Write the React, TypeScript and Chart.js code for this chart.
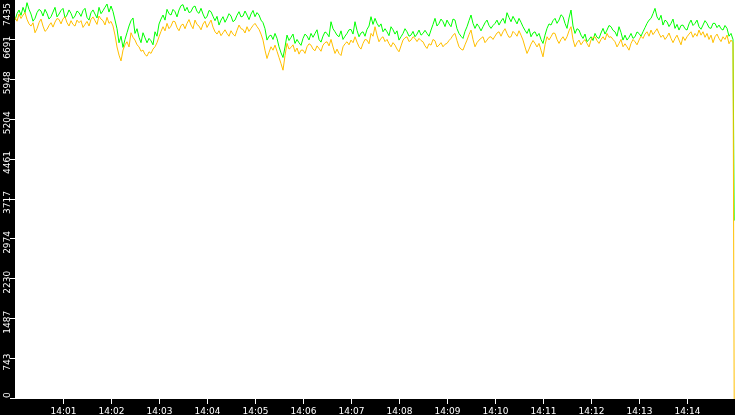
import React, { useEffect, useRef } from "react";
import { Chart, registerables } from "chart.js";

Chart.register(...registerables);

// Sampling interval of the series (seconds, starting at 14:00:00)
const SAMPLE_SECONDS = 2.5;
const X_MAX_SECONDS = 900;

const xTickSeconds = [60, 120, 180, 240, 300, 360, 420, 480, 540, 600, 660, 720, 780, 840];
const xTickLabels = ["14:01", "14:02", "14:03", "14:04", "14:05", "14:06", "14:07", "14:08", "14:09", "14:10", "14:11", "14:12", "14:13", "14:14"];

const yMax = 7435;
const yTickLabels = ["0", "743", "1487", "2230", "2974", "3717", "4461", "5204", "5948", "6691", "7435"];

const greenValues = [
  7061, 7180, 7248, 7150, 7298, 7200, 7385, 7260, 7173, 7040, 7093, 7200, 7261, 7230, 7136, 7260, 7186, 7080, 7124, 7210,
  7298, 7120, 7173, 7240, 7279, 7100, 7155, 7250, 7186, 7090, 7136, 7230, 7198, 7130, 7236, 7280, 7111, 7060, 7198, 7250,
  7173, 7100, 7298, 7180, 7236, 7300, 7360, 7210, 7323, 7220, 7061, 6900, 6638, 6760, 6551, 6700, 6825, 6950, 7049, 7100,
  6812, 6900, 6738, 6640, 6825, 6730, 6638, 6720, 6675, 6600, 6843, 6760, 6987, 7080, 7155, 7060, 7261, 7180, 7155, 7260,
  7217, 7120, 7248, 7330, 7348, 7230, 7298, 7200, 7217, 7300, 7323, 7220, 7186, 7280, 7173, 7090, 7124, 7240, 7217, 7130,
  7049, 7130, 6968, 7060, 7124, 7020, 7093, 7180, 7136, 7030, 7061, 7150, 7217, 7120, 7136, 7230, 7155, 7070, 7173, 7240,
  7124, 7200, 7155, 7060, 7012, 6900, 6688, 6760, 6781, 6700, 6812, 6720, 6563, 6450, 6364, 6560, 6781, 6680, 6738, 6800,
  6626, 6700, 6638, 6590, 6719, 6800, 6762, 6690, 6812, 6740, 6812, 6880, 6700, 6650, 6762, 6840, 6812, 6750, 7030, 6900,
  6843, 6780, 6750, 6860, 6700, 6760, 6812, 6880, 6887, 6800, 7030, 6870, 6750, 6820, 6843, 6760, 6887, 6950, 7124, 6980,
  7093, 7000, 6937, 6990, 6843, 6900, 6843, 6770, 6937, 6880, 6800, 6860, 6688, 6750, 6812, 6900, 6843, 6760, 6781, 6850,
  6750, 6800, 6875, 6780, 6812, 6870, 6812, 6760, 6875, 6980, 7093, 6950, 6999, 7080, 7030, 6940, 7061, 6990, 6937, 7080,
  7061, 6900, 6812, 6760, 6719, 6850, 6937, 7050, 7155, 7000, 6906, 6990, 6937, 6860, 6937, 7010, 7061, 6960, 6906, 6960,
  6999, 7060, 6968, 7040, 7093, 7000, 7198, 7110, 7030, 7130, 7061, 6990, 7093, 7020, 6937, 6870, 6812, 6900, 6750, 6820,
  6843, 6760, 6812, 6700, 6626, 6780, 6906, 6990, 6968, 7050, 7093, 7000, 7061, 7160, 7124, 7000, 6906, 7100, 7248, 6950,
  6812, 6900, 6875, 6780, 6719, 6800, 6657, 6700, 6750, 6680, 6812, 6740, 6719, 6820, 6906, 6800, 6875, 6960, 6937, 6870,
  6843, 6760, 6937, 6830, 6688, 6780, 6688, 6740, 6812, 6720, 6750, 6840, 6812, 6760, 6843, 6920, 6999, 7060, 7093, 7180,
  7279, 7120, 7061, 7150, 6968, 7060, 7030, 6940, 6999, 7080, 6906, 6980, 6875, 6960, 6968, 6900, 6875, 6990, 7061, 6960,
  6999, 7060, 6937, 6890, 6968, 7050, 6999, 6920, 6906, 7000, 6999, 6920, 6968, 6900, 6875, 6960, 6906, 6760, 6812, 6700,
];

const orangeValues = [
  7111, 7040, 7173, 7090, 7155, 7200, 7074, 6990, 6949, 7010, 6825, 6900, 7012, 7080, 6949, 6850, 6887, 6960, 7012, 6930,
  7024, 7090, 7074, 6990, 7086, 7120, 7012, 6950, 7049, 6980, 6949, 7060, 7012, 7050, 6924, 6980, 7036, 6950, 7074, 7120,
  7049, 6980, 7136, 7080, 7049, 6970, 7111, 7000, 7036, 6950, 6781, 6560, 6408, 6300, 6501, 6600, 6657, 6560, 6825, 6740,
  6688, 6600, 6563, 6480, 6501, 6420, 6389, 6470, 6439, 6520, 6563, 6640, 6750, 6850, 6937, 6860, 6999, 6900, 6949, 7040,
  7030, 6920, 6862, 6960, 6987, 6900, 6999, 7070, 6968, 6900, 7061, 6980, 6949, 6880, 6987, 7040, 6924, 6990, 7061, 6930,
  6843, 6800, 6862, 6770, 6825, 6880, 6812, 6760, 6862, 6800, 6762, 6870, 6968, 6900, 6887, 6820, 6937, 6850, 6906, 6960,
  6999, 6940, 6887, 6800, 6688, 6500, 6345, 6460, 6563, 6500, 6594, 6480, 6364, 6250, 6127, 6400, 6626, 6520, 6551, 6600,
  6470, 6540, 6426, 6500, 6501, 6440, 6563, 6620, 6594, 6520, 6489, 6580, 6532, 6480, 6594, 6640, 6657, 6580, 6700, 6560,
  6439, 6520, 6439, 6400, 6563, 6620, 6657, 6600, 6688, 6640, 6750, 6650, 6563, 6520, 6626, 6700, 6688, 6620, 6812, 6760,
  6937, 6780, 6657, 6720, 6750, 6660, 6700, 6620, 6563, 6640, 6594, 6520, 6470, 6580, 6688, 6730, 6750, 6660, 6688, 6750,
  6719, 6660, 6719, 6680, 6657, 6580, 6532, 6620, 6594, 6700, 6675, 6560, 6594, 6640, 6563, 6610, 6626, 6680, 6719, 6780,
  6812, 6680, 6563, 6520, 6501, 6600, 6688, 6790, 6875, 6700, 6563, 6640, 6688, 6720, 6750, 6640, 6688, 6740, 6750, 6700,
  6762, 6820, 6843, 6760, 6843, 6900, 6812, 6740, 6750, 6850, 6812, 6760, 6862, 6780, 6688, 6560, 6439, 6520, 6613, 6680,
  6626, 6560, 6626, 6500, 6376, 6600, 6750, 6690, 6750, 6820, 6812, 6700, 6626, 6700, 6750, 6680, 6750, 6860, 6937, 6700,
  6563, 6640, 6688, 6600, 6657, 6700, 6626, 6560, 6688, 6740, 6750, 6680, 6626, 6700, 6750, 6690, 6812, 6740, 6750, 6700,
  6657, 6560, 6626, 6700, 6563, 6620, 6563, 6500, 6626, 6700, 6657, 6600, 6688, 6760, 6719, 6800, 6843, 6760, 6875, 6790,
  6843, 6900, 6812, 6740, 6781, 6700, 6750, 6820, 6719, 6640, 6719, 6780, 6688, 6600, 6750, 6680, 6750, 6800, 6843, 6740,
  6812, 6760, 6875, 6780, 6843, 6740, 6812, 6700, 6781, 6640, 6750, 6800, 6719, 6660, 6750, 6700, 6781, 6620, 6688, 6640,
];

// Final sample where both series drop
const dropSecond = 899;
const greenDrop = 3325;
const orangeDrop = 0;

const GREEN = "#00ff00";
const ORANGE = "#ffbf00";
const FONT = '9px "DejaVu Sans"';

function toPoints(values: number[], last: number) {
  const pts = values.map((v, i) => ({ x: i * SAMPLE_SECONDS, y: v }));
  pts.push({ x: dropSecond, y: last });
  return pts;
}

const framePlugin = {
  id: "frame",
  beforeDraw(chart: any) {
    const { ctx, chartArea: a, width, height } = chart;
    ctx.save();
    ctx.fillStyle = "#000";
    ctx.fillRect(0, 0, width, height);
    ctx.fillStyle = "#fff";
    ctx.fillRect(a.left, a.top, a.right - a.left, a.bottom - a.top);
    ctx.restore();
  },
  afterDraw(chart: any) {
    const { ctx, chartArea: a } = chart;
    const xs = chart.scales.x;
    const ys = chart.scales.y;
    ctx.save();
    ctx.strokeStyle = "#fff";
    ctx.fillStyle = "#fff";
    ctx.lineWidth = 1;
    ctx.font = FONT;
    // x axis ticks + labels
    xTickSeconds.forEach((s, i) => {
      const x = Math.round(xs.getPixelForValue(s)) + 0.5;
      ctx.beginPath();
      ctx.moveTo(x, a.bottom);
      ctx.lineTo(x, a.bottom + 5);
      ctx.stroke();
      ctx.textAlign = "center";
      ctx.textBaseline = "alphabetic";
      ctx.fillText(xTickLabels[i], x, a.bottom + 15);
    });
    // y axis ticks + rotated labels (laid out from the top so they never overlap)
    const n = yTickLabels.length - 1;
    let prevEnd = -Infinity;
    for (let i = n; i >= 0; i--) {
      const lab = yTickLabels[i];
      const v = (yMax * i) / n;
      const py = ys.getPixelForValue(v);
      const y = Math.round(py) - 0.5;
      ctx.beginPath();
      ctx.moveTo(a.left - 5, y);
      ctx.lineTo(a.left, y);
      ctx.stroke();
      const w = ctx.measureText(lab).width;
      let cy = py + 3;
      cy = Math.max(cy, a.top + 3 + w / 2);
      cy = Math.max(cy, prevEnd + 10 + w / 2);
      cy = Math.min(cy, a.bottom - 1 - w / 2);
      prevEnd = cy + w / 2;
      ctx.save();
      ctx.translate(a.left - 5, cy);
      ctx.rotate(-Math.PI / 2);
      ctx.textAlign = "center";
      ctx.textBaseline = "alphabetic";
      ctx.fillText(lab, 0, 0);
      ctx.restore();
    }
    ctx.restore();
  },
};

export default function App() {
  const canvasRef = useRef<HTMLCanvasElement | null>(null);

  useEffect(() => {
    if (!canvasRef.current) return;
    const chart = new Chart(canvasRef.current, {
      type: "line",
      data: {
        datasets: [
          {
            label: "orange",
            data: toPoints(orangeValues, orangeDrop),
            borderColor: ORANGE,
            borderWidth: 1,
            pointRadius: 0,
            tension: 0,
            fill: false,
          },
          {
            label: "green",
            data: toPoints(greenValues, greenDrop),
            borderColor: GREEN,
            borderWidth: 1,
            pointRadius: 0,
            tension: 0,
            fill: false,
          },
        ],
      },
      options: {
        animation: false,
        responsive: false,
        devicePixelRatio: 1,
        layout: { padding: { left: 15, right: 0, top: 0, bottom: 16 } },
        plugins: { legend: { display: false }, tooltip: { enabled: false } },
        scales: {
          x: { type: "linear", display: false, min: 0, max: X_MAX_SECONDS },
          y: { type: "linear", display: false, min: 0, max: yMax },
        },
      },
      plugins: [framePlugin],
    });
    return () => chart.destroy();
  }, []);

  return (
    <div style={{ position: "fixed", left: 0, top: 0, width: 735, height: 415, background: "#000" }}>
      <canvas ref={canvasRef} width={735} height={415} style={{ display: "block" }} />
    </div>
  );
}
